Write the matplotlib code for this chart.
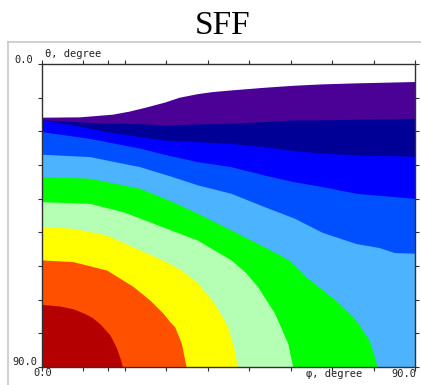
import numpy as np
import matplotlib
matplotlib.use("Agg")
import matplotlib.pyplot as plt
from matplotlib.lines import Line2D

# ---- data: contour band boundaries, theta (deg) as a function of phi (deg) ----
b1_phi = [0, 9, 17, 21, 25, 29.6, 33, 37.5, 41, 45.6, 53.7, 60.9, 67.6, 75.7, 90]
b1_theta = [15.8, 15.7, 14.9, 14.0, 12.8, 11.3, 9.9, 8.8, 8.2, 7.7, 6.9, 6.3, 5.9, 5.6, 5.2]

b2_phi = [0, 7.5, 15.6, 23.6, 29.6, 37.5, 45.6, 53.7, 60.9, 67.6, 75.7, 90]
b2_theta = [16.6, 17.1, 17.6, 17.7, 18.1, 17.8, 17.6, 17.1, 16.6, 16.6, 16.4, 16.1]

b3_phi = [0, 7.5, 15.6, 23.6, 29.6, 37.5, 45.6, 53.7, 60.9, 67.6, 75.7, 90]
b3_theta = [16.6, 18.1, 20.1, 21.6, 22.6, 23.1, 23.6, 24.6, 25.7, 26.5, 27.0, 27.4]

b4_phi = [0, 11.5, 23.6, 30.8, 37.5, 45.6, 53.7, 60.9, 67.6, 75.7, 90]
b4_theta = [20.1, 22.1, 25.0, 27.2, 29.0, 30.5, 33.0, 35.0, 36.4, 38.4, 39.9]

b5_phi = [0, 11.5, 23.6, 30.8, 37.5, 45.6, 53.7, 60.9, 67.6, 75.7, 81.3, 85, 90]
b5_theta = [26.8, 27.5, 30.5, 33.2, 35.9, 38.4, 42.4, 45.8, 50.0, 53.3, 54.5, 56.0, 56.2]

b6_phi = [0, 11.5, 23.6, 30.8, 37.5, 45.6, 53.7, 60.0, 63.7, 67.7, 71.7, 75.7, 78.9, 80.0, 80.9]
b6_theta = [33.5, 33.9, 36.9, 40.5, 44.3, 49.3, 54.3, 58.5, 63.2, 67.1, 71.1, 76.0, 82.0, 86.0, 90]

b7_phi = [0, 11.5, 19.6, 29.6, 37.5, 45.6, 49.0, 52.0, 56.1, 59.3, 60.5]
b7_theta = [40.9, 41.4, 43.9, 48.6, 52.3, 58.2, 61.8, 66.1, 74.0, 83.0, 90]

b8_phi = [0, 7.5, 15.6, 23.6, 29.6, 33.6, 37.6, 41.6, 44.8, 46.4, 47.1]
b8_theta = [48.3, 48.8, 50.8, 55.2, 58.5, 61.2, 65.1, 71.1, 78.0, 84.9, 90]

b9_phi = [0, 7.5, 15.6, 22.0, 26.0, 29.2, 30.8, 32.0, 33.6, 34.8]
b9_theta = [58.2, 58.7, 61.2, 66.1, 70.1, 74.0, 76.5, 78.0, 82.9, 90]

b10_phi = [0, 4.3, 7.5, 10.1, 12.0, 14.0, 16.4, 18.0, 19.0, 19.4]
b10_theta = [71.4, 71.9, 72.7, 74.0, 75.2, 77.2, 80.5, 84.4, 88.0, 90]

band_colors = ["#4b0096", "#000096", "#0000ff", "#0050ff", "#4cb4ff",
               "#00ff00", "#b4ffb4", "#ffff00", "#ff5000", "#b40000"]

boundaries = [(b1_phi, b1_theta), (b2_phi, b2_theta), (b3_phi, b3_theta),
              (b4_phi, b4_theta), (b5_phi, b5_theta), (b6_phi, b6_theta),
              (b7_phi, b7_theta), (b8_phi, b8_theta), (b9_phi, b9_theta),
              (b10_phi, b10_theta)]

x_ticks = list(range(0, 91, 10))
y_ticks = list(range(0, 91, 10))

# ---- figure ----
W, H = 421, 385
fig = plt.figure(figsize=(W / 100, H / 100), dpi=100)
fig.patch.set_facecolor("white")

# light gray frame
fig.add_artist(Line2D([8 / W, 1.0], [1 - 42 / H, 1 - 42 / H], color="#c8c8c8", lw=1.2))
fig.add_artist(Line2D([8 / W, 8 / W], [0.0, 1 - 42 / H], color="#c8c8c8", lw=1.2))

ax = fig.add_axes([42 / W, 1 - 367 / H, 373 / W, 303 / H])
ax.set_facecolor("white")

for (ph, th), c in zip(boundaries, band_colors):
    ax.fill_between(ph, th, 90, color=c, linewidth=0)

ax.set_xlim(0, 90)
ax.set_ylim(90, 0)
ax.set_xticks(x_ticks)
ax.set_yticks(y_ticks)
ax.set_xticks([16], minor=True)
ax.tick_params(which="both", direction="out", length=3, width=0.8, color="#303030",
               top=True, right=True, labelbottom=False, labelleft=False)
for s in ax.spines.values():
    s.set_color("#303030")
    s.set_linewidth(1.0)

mono = dict(family="DejaVu Sans Mono", fontsize=7.5, color="#202020")
fig.text(45 / W, 1 - 57 / H, "θ, degree", ha="left", va="baseline", **mono)
fig.text(33 / W, 1 - 63 / H, "0.0", ha="right", va="baseline", **mono)
fig.text(37 / W, 1 - 365 / H, "90.0", ha="right", va="baseline", **mono)
fig.text(43 / W, 1 - 376 / H, "0.0", ha="center", va="baseline", **mono)
fig.text(306 / W, 1 - 377 / H, "φ, degree", ha="left", va="baseline", **mono)
fig.text(416 / W, 1 - 377 / H, "90.0", ha="right", va="baseline", **mono)

fig.text(223 / W, 1 - 34 / H, "SFF", ha="center", va="baseline",
         family="Liberation Serif", fontsize=24, color="black")

fig.savefig("out.png", dpi=100)
